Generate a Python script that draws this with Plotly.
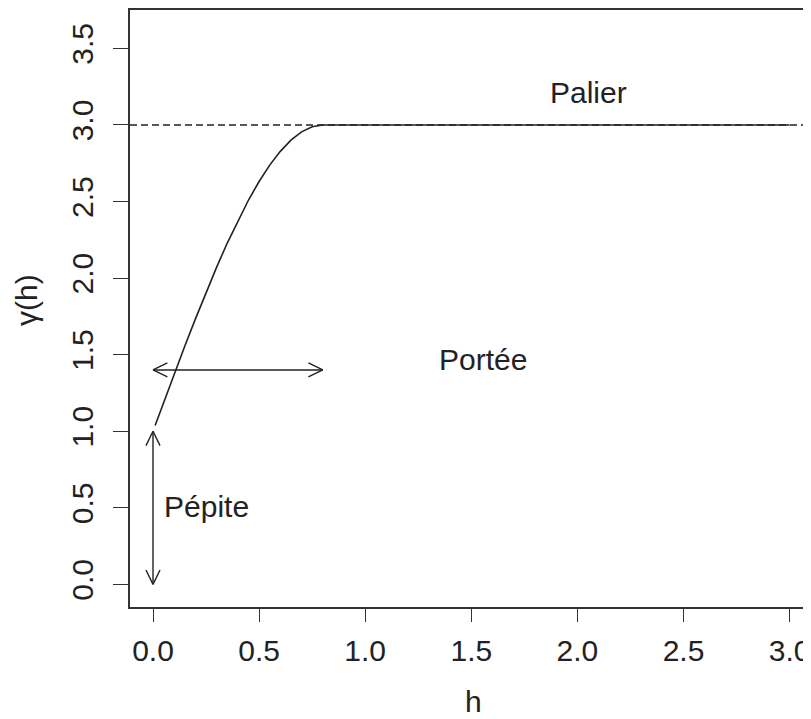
import math
import plotly.graph_objects as go

# Data
h_curve = [0.01, 0.05, 0.10, 0.15, 0.20, 0.25, 0.30, 0.35, 0.40, 0.45, 0.50,
           0.55, 0.60, 0.65, 0.70, 0.75, 0.80, 3.00]
g_curve = [1.037, 1.187, 1.373, 1.556, 1.734, 1.907, 2.072, 2.229, 2.375, 2.510,
           2.631, 2.738, 2.828, 2.901, 2.955, 2.989, 3.000, 3.000]
sill = 3.0
nugget = 1.0
range_h = 0.8
range_arrow_y = 1.4
x_ticks = [0.0, 0.5, 1.0, 1.5, 2.0, 2.5, 3.0]
y_ticks = [0.0, 0.5, 1.0, 1.5, 2.0, 2.5, 3.0, 3.5]
labels = ["Palier", "Portée", "Pépite"]
label_x = [2.05, 1.555, 0.25]
label_y = [3.215, 1.466, 0.511]

# page body adds an 8px margin, so the figure is drawn 8px smaller
W, H = 803, 711
ML, MR, MT, MB = 122, 0, 2, 112
xr = [-0.1084, 3.1008]
yr = [-0.148, 3.751]
pw = W - ML - MR
ph = H - MT - MB
px_x = pw / (xr[1] - xr[0])  # pixels per x unit
px_y = ph / (yr[1] - yr[0])  # pixels per y unit

INK = "#222222"
FONT = "Liberation Sans, Arial, Helvetica, sans-serif"
FS = 30

fig = go.Figure()

# dashed sill line across the full plot
fig.add_trace(go.Scatter(x=[xr[0], xr[1]], y=[sill, sill], mode="lines",
                         line=dict(color=INK, width=1.6, dash="7px,4px"),
                         hoverinfo="skip", showlegend=False))
# variogram curve
fig.add_trace(go.Scatter(x=h_curve, y=g_curve, mode="lines",
                         line=dict(color=INK, width=1.6), hoverinfo="skip",
                         showlegend=False))


def arrow(x0, y0, x1, y1, L=16, ang=26):
    """Double-headed arrow with open heads (R style)."""
    xs, ys = [x0, x1, None], [y0, y1, None]
    dxp = (x1 - x0) * px_x
    dyp = (y1 - y0) * px_y
    d = math.hypot(dxp, dyp)
    ux, uy = dxp / d, dyp / d
    for (ax, ay, sx, sy) in [(x1, y1, -ux, -uy), (x0, y0, ux, uy)]:
        for s in (1, -1):
            a = math.radians(ang) * s
            rx = sx * math.cos(a) - sy * math.sin(a)
            ry = sx * math.sin(a) + sy * math.cos(a)
            xs += [ax + rx * L / px_x, ax, None]
            ys += [ay + ry * L / px_y, ay, None]
    fig.add_trace(go.Scatter(x=xs, y=ys, mode="lines",
                             line=dict(color=INK, width=1.4), hoverinfo="skip",
                             showlegend=False))


arrow(0.0, 0.0, 0.0, nugget)
arrow(0.0, range_arrow_y, range_h, range_arrow_y)

for t, x, y in zip(labels, label_x, label_y):
    fig.add_annotation(x=x, y=y, text=t, showarrow=False,
                       font=dict(family=FONT, size=FS, color=INK),
                       xanchor="center", yanchor="middle")

# axis titles
fig.add_annotation(xref="paper", yref="paper", x=(465 - ML) / pw,
                   y=-(693 - MT - ph) / ph, text="h", showarrow=False,
                   font=dict(family=FONT, size=FS, color=INK),
                   xanchor="center", yanchor="middle")
fig.add_annotation(xref="paper", yref="paper", x=(18 - ML) / pw,
                   y=1 - (292 - MT) / ph, text="γ(h)", showarrow=False,
                   textangle=-90,
                   font=dict(family=FONT, size=FS, color=INK),
                   xanchor="center", yanchor="middle")

fig.update_layout(
    width=W, height=H,
    margin=dict(l=ML, r=MR, t=MT, b=MB, pad=0),
    plot_bgcolor="white", paper_bgcolor="white",
    font=dict(family=FONT, size=FS, color=INK),
    xaxis=dict(range=xr, tickvals=x_ticks, ticktext=[f"{v:.1f}" for v in x_ticks],
               showgrid=False, zeroline=False, showline=True, mirror=True,
               linecolor="#333333", linewidth=1.6, ticks="outside", ticklen=13,
               tickwidth=1.4, tickcolor="#333333", ticklabelstandoff=3),
    yaxis=dict(range=yr, tickvals=y_ticks, ticktext=[f"{v:.1f}" for v in y_ticks],
               showgrid=False, zeroline=False, showline=True, mirror=False,
               linecolor="#333333", linewidth=1.6, ticks="outside", ticklen=15,
               tickwidth=1.4, tickcolor="#333333", tickangle=-90,
               ticklabelstandoff=8),
)

fig.write_html("out.html")
